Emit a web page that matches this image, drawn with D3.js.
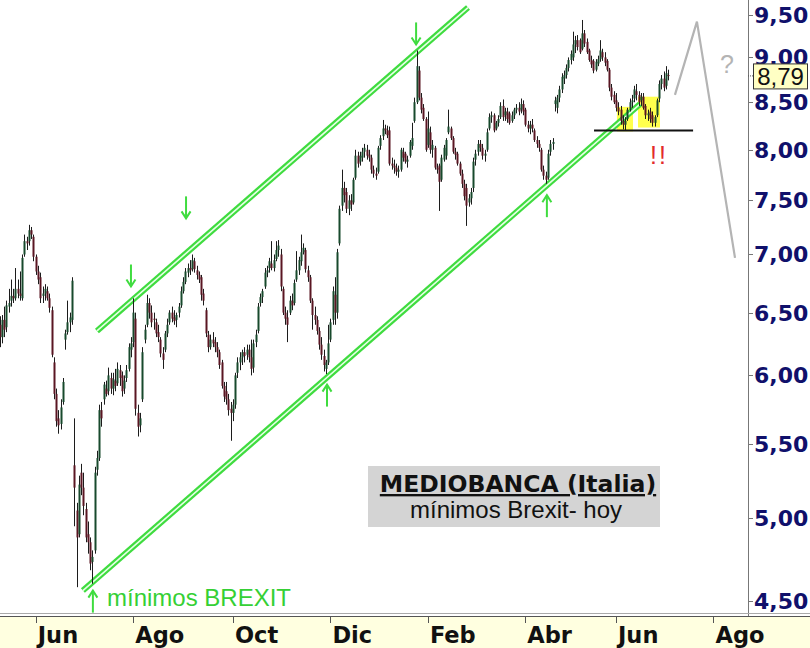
<!DOCTYPE html>
<html><head><meta charset="utf-8">
<script src="https://cdnjs.cloudflare.com/ajax/libs/d3/7.8.5/d3.min.js"></script>
<style>body{margin:0;background:#fff}svg{display:block}</style>
</head><body>
<svg id="chart" width="810" height="648"></svg>
<script>
// ---------------- DATA ----------------
const startDate = "2016-05-10";
const holidays = ["2016-08-15","2016-12-26","2017-04-14","2017-04-17","2017-05-01"];
const opens = [6.40,6.30,6.44,6.38,6.55,6.60,6.64,6.62,6.70,6.66,6.62,7.00,7.12,7.12,7.22,7.16,6.98,6.85,6.80,6.64,6.66,6.68,6.62,6.52,6.10,5.86,5.68,5.64,5.80,6.28,6.34,6.42,6.44,5.35,5.05,4.90,5.30,5.20,5.06,4.90,4.85,4.73,4.80,5.32,5.40,5.74,5.82,5.90,5.88,5.98,5.90,5.96,5.94,6.04,6.00,5.90,5.98,6.05,6.20,6.26,6.45,5.72,5.63,5.82,6.28,6.40,6.58,6.50,6.45,6.42,6.34,6.28,6.17,6.20,6.33,6.42,6.50,6.46,6.44,6.50,6.56,6.68,6.76,6.84,6.88,6.87,6.94,6.86,6.82,6.80,6.66,6.52,6.32,6.22,6.28,6.26,6.22,6.18,6.10,5.92,5.88,5.82,5.75,5.72,5.78,6.02,6.10,6.14,6.18,6.16,6.20,6.14,6.06,6.26,6.35,6.58,6.63,6.72,6.84,6.88,6.92,6.88,6.96,7.04,7.00,6.70,6.50,6.46,6.50,6.60,6.58,6.78,6.86,6.94,7.02,7.04,6.86,6.80,6.60,6.48,6.44,6.35,6.24,6.15,6.05,6.10,6.28,6.44,6.65,6.50,7.10,7.45,7.62,7.58,7.42,7.50,7.48,7.72,7.94,7.88,7.92,7.98,8.00,7.95,7.92,7.80,7.76,7.78,8.04,8.14,8.22,8.20,8.20,7.86,7.84,7.82,7.78,7.80,7.98,7.96,7.88,7.94,8.04,8.30,8.50,8.85,8.55,8.44,8.32,8.05,8.18,8.00,8.02,7.82,7.84,7.70,7.90,7.94,8.18,8.22,8.12,7.98,7.96,7.86,7.76,7.66,7.62,7.48,7.52,7.62,7.90,7.98,8.06,8.02,7.94,8.00,8.22,8.34,8.36,8.22,8.28,8.34,8.46,8.36,8.40,8.38,8.30,8.36,8.42,8.44,8.42,8.48,8.42,8.26,8.22,8.26,8.20,8.10,8.06,8.00,7.80,7.74,7.72,7.98,8.06,8.48,8.44,8.55,8.64,8.76,8.80,8.88,8.97,9.00,9.15,9.20,9.20,9.10,9.28,9.18,9.08,8.97,8.96,8.86,8.93,8.98,9.06,9.00,8.96,8.86,8.66,8.58,8.52,8.44,8.42,8.30,8.26,8.32,8.42,8.50,8.54,8.62,8.58,8.52,8.56,8.46,8.36,8.40,8.36,8.28,8.36,8.54,8.70,8.76,8.68,8.80];
const highs = [6.47,6.48,6.55,6.60,6.70,6.78,6.70,6.88,6.78,6.85,7.00,7.18,7.16,7.27,7.25,7.18,7.00,6.90,6.84,6.72,6.74,6.72,6.66,6.55,6.14,5.90,5.74,5.82,5.98,6.36,6.60,6.50,6.80,5.68,5.10,5.28,5.36,5.30,5.10,4.98,4.88,4.80,5.34,5.45,5.78,5.80,5.95,5.96,6.06,6.02,6.02,6.05,6.10,6.08,6.03,6.00,6.08,6.25,6.30,6.62,6.50,5.78,5.72,6.22,6.40,6.65,6.62,6.56,6.50,6.45,6.40,6.30,6.22,6.35,6.45,6.52,6.55,6.52,6.50,6.58,6.72,6.80,6.88,6.92,6.95,7.00,6.97,6.90,6.85,6.82,6.70,6.54,6.35,6.32,6.34,6.30,6.26,6.20,6.12,5.95,5.95,5.86,5.80,5.82,6.02,6.14,6.18,6.20,6.22,6.24,6.24,6.28,6.28,6.36,6.58,6.66,6.70,6.88,6.90,6.97,7.12,7.00,7.12,7.13,7.05,6.72,6.55,6.52,6.64,6.66,6.78,7.03,6.98,7.18,7.10,7.06,6.90,6.82,6.62,6.55,6.47,6.38,6.30,6.20,6.12,6.40,6.45,6.72,6.80,7.05,7.45,7.80,7.68,7.62,7.55,7.56,7.72,8.00,7.98,7.98,8.02,8.06,8.05,8.00,7.95,7.84,7.82,8.04,8.15,8.31,8.26,8.25,8.24,7.92,7.90,7.86,7.84,8.02,8.02,7.98,7.94,8.10,8.28,8.55,9.08,8.90,8.60,8.48,8.34,8.40,8.24,8.10,8.04,7.86,7.86,7.95,8.05,8.12,8.42,8.24,8.14,8.02,7.98,7.88,7.80,7.70,7.66,7.56,7.62,7.92,8.00,8.10,8.10,8.06,8.00,8.22,8.38,8.40,8.38,8.30,8.36,8.50,8.53,8.44,8.44,8.40,8.40,8.44,8.48,8.50,8.54,8.52,8.44,8.30,8.30,8.32,8.22,8.14,8.10,8.02,7.84,7.78,8.00,8.10,8.12,8.56,8.58,8.68,8.82,8.85,8.92,9.00,9.08,9.30,9.25,9.26,9.22,9.44,9.32,9.22,9.10,9.02,8.98,8.98,9.02,9.20,9.10,9.06,8.98,8.88,8.70,8.62,8.60,8.50,8.46,8.36,8.34,8.44,8.54,8.58,8.68,8.70,8.62,8.60,8.60,8.48,8.42,8.44,8.40,8.36,8.54,8.74,8.80,8.84,8.90,8.86];
const lows = [6.22,6.25,6.30,6.34,6.50,6.55,6.58,6.60,6.62,6.60,6.60,6.98,7.04,7.08,7.14,6.94,6.82,6.74,6.58,6.58,6.60,6.60,6.50,6.14,5.82,5.62,5.57,5.60,5.78,6.20,6.32,6.34,6.40,4.95,4.58,4.88,5.15,5.02,4.85,4.78,4.68,4.60,4.78,5.28,5.38,5.62,5.78,5.84,5.85,5.86,5.85,5.88,5.92,5.92,5.84,5.86,5.95,6.03,6.14,6.22,5.70,5.55,5.58,5.80,6.25,6.38,6.45,6.38,6.36,6.30,6.26,6.14,6.05,6.18,6.30,6.40,6.42,6.40,6.38,6.46,6.54,6.66,6.74,6.80,6.82,6.85,6.84,6.78,6.75,6.60,6.56,6.30,6.18,6.20,6.22,6.18,6.14,6.05,5.90,5.80,5.78,5.70,5.52,5.66,5.75,5.98,6.04,6.08,6.10,6.12,6.10,6.00,6.02,6.22,6.33,6.55,6.58,6.70,6.80,6.84,6.86,6.85,6.94,6.98,6.68,6.48,6.40,6.26,6.48,6.52,6.56,6.76,6.82,6.90,7.00,6.84,6.76,6.58,6.36,6.40,6.32,6.20,6.12,6.03,6.01,6.08,6.26,6.40,6.40,6.45,7.08,7.40,7.48,7.38,7.36,7.40,7.46,7.70,7.82,7.84,7.88,7.92,7.90,7.88,7.76,7.72,7.70,7.76,8.00,8.10,8.16,8.12,7.84,7.80,7.76,7.74,7.72,7.78,7.88,7.86,7.82,7.92,8.00,8.28,8.48,8.52,8.38,8.30,7.98,8.02,7.96,7.92,7.80,7.76,7.40,7.68,7.88,7.90,8.16,8.10,7.96,7.90,7.84,7.74,7.62,7.50,7.26,7.44,7.46,7.58,7.84,7.94,7.98,7.90,7.88,7.98,8.20,8.28,8.18,8.20,8.24,8.32,8.30,8.30,8.28,8.26,8.28,8.32,8.38,8.36,8.38,8.36,8.24,8.18,8.16,8.18,8.08,8.02,7.98,7.78,7.70,7.66,7.70,7.94,8.00,8.40,8.38,8.50,8.60,8.70,8.76,8.84,8.92,8.96,9.05,9.08,9.04,9.08,9.12,9.04,8.95,8.88,8.82,8.84,8.90,8.95,8.96,8.90,8.84,8.62,8.52,8.48,8.40,8.36,8.26,8.21,8.20,8.30,8.40,8.44,8.50,8.52,8.46,8.46,8.42,8.32,8.30,8.28,8.24,8.24,8.34,8.50,8.64,8.62,8.64,8.74];
const closes = [6.30,6.44,6.36,6.56,6.58,6.64,6.62,6.70,6.66,6.64,6.97,7.12,7.10,7.22,7.18,6.98,6.85,6.78,6.62,6.66,6.70,6.62,6.54,6.16,5.86,5.66,5.63,5.76,5.95,6.33,6.42,6.46,6.77,5.20,4.88,5.22,5.20,5.08,4.88,4.85,4.72,4.76,5.30,5.40,5.74,5.68,5.93,5.86,6.00,5.90,5.97,5.92,6.05,5.98,5.88,5.96,6.04,6.22,6.25,6.50,5.75,5.62,5.68,6.18,6.36,6.58,6.50,6.42,6.44,6.33,6.30,6.17,6.12,6.33,6.40,6.50,6.45,6.43,6.48,6.55,6.68,6.76,6.85,6.88,6.86,6.95,6.87,6.82,6.78,6.65,6.60,6.33,6.22,6.28,6.25,6.22,6.18,6.08,5.92,5.84,5.82,5.74,5.72,5.78,6.00,6.10,6.14,6.18,6.15,6.20,6.14,6.05,6.25,6.32,6.55,6.63,6.68,6.84,6.86,6.94,6.88,6.95,7.04,7.08,6.72,6.50,6.45,6.40,6.60,6.56,6.75,6.86,6.95,7.02,7.06,6.87,6.80,6.60,6.48,6.44,6.35,6.24,6.16,6.08,6.10,6.25,6.42,6.68,6.50,7.02,7.42,7.62,7.55,7.42,7.50,7.46,7.70,7.94,7.86,7.94,7.98,8.02,7.94,7.92,7.80,7.76,7.74,8.02,8.12,8.22,8.20,8.15,7.86,7.84,7.82,7.78,7.80,8.00,7.92,7.88,7.90,8.08,8.12,8.50,8.90,8.55,8.42,8.32,8.00,8.22,8.00,8.05,7.82,7.80,7.68,7.92,8.02,8.10,8.24,8.12,7.98,7.95,7.86,7.76,7.66,7.54,7.45,7.52,7.58,7.88,7.96,8.06,8.02,7.94,7.96,8.18,8.34,8.36,8.20,8.28,8.32,8.46,8.34,8.40,8.32,8.28,8.36,8.42,8.44,8.40,8.48,8.40,8.26,8.22,8.26,8.22,8.10,8.06,8.02,7.80,7.74,7.70,7.96,8.06,8.08,8.52,8.55,8.64,8.78,8.80,8.88,8.97,9.04,9.15,9.20,9.12,9.06,9.28,9.16,9.06,8.97,8.92,8.85,8.95,8.98,9.08,9.00,8.94,8.86,8.66,8.56,8.50,8.44,8.40,8.30,8.26,8.30,8.42,8.50,8.52,8.64,8.58,8.50,8.56,8.44,8.36,8.38,8.32,8.28,8.34,8.52,8.70,8.76,8.66,8.82,8.79];
const yTickValues = [4.5,5.0,5.5,6.0,6.5,7.0,7.5,8.0,8.5,9.0,9.5];
const monthTicks = ["2016-06","2016-08","2016-10","2016-12","2017-02","2017-04","2017-06","2017-08"];
const monthLabels = ["Jun","Ago","Oct","Dic","Feb","Abr","Jun","Ago"];
const lastPrice = 8.79;
// trend channel, [bar index, price]
const upperChannel = [[43.0,6.35],[206.7,9.59]];
const lowerChannel = [[36.8,4.56],[282.6,8.48]];
// arrow tips [bar index, price, direction]
const arrowTips = [[58.0,6.72,"down"],[82.3,7.33,"down"],[183.8,9.15,"down"],[144.5,5.93,"up"],[241.5,7.55,"up"],[41.2,4.56,"up"]];
const supportLine = [[262.3,8.20],[306.0,8.20]];
const highlightZones = [[272.4,279.5,8.19,8.45],[281.7,291.4,8.23,8.56]];
const scenarioPath = [[298.0,8.58],[307.7,9.42],[324.5,6.97]];

// ---------------- SETUP ----------------
const svg = d3.select("#chart");
const W = 810, H = 648, plotRight = 748, plotBottom = 616;

// trading days
const parse = d3.utcParse("%Y-%m-%d");
const fmtDay = d3.utcFormat("%Y-%m-%d");
const fmtMonth = d3.utcFormat("%Y-%m");
const days = [];
let d = parse(startDate);
while (days.length < 340) {
  const wd = d.getUTCDay();
  if (wd !== 0 && wd !== 6 && !holidays.includes(fmtDay(d))) days.push(new Date(d));
  d = d3.utcDay.offset(d, 1);
}

const x = d3.scaleLinear().domain([0, 330]).range([-0.5, -0.5 + 330 * 2.2666]);
const y = d3.scaleLog().domain([4.5, 9.5]).range([601, 15]);

// background
svg.append("rect").attr("width", W).attr("height", H).attr("fill", "#fff");

// highlight zones
svg.append("g").selectAll("rect").data(highlightZones).join("rect")
  .attr("x", z => x(z[0])).attr("width", z => x(z[1]) - x(z[0]))
  .attr("y", z => y(z[3])).attr("height", z => y(z[2]) - y(z[3]))
  .attr("fill", "#ffff4d");

// channel lines
const line = d3.line().x(p => x(p[0])).y(p => y(p[1]));
[upperChannel, lowerChannel].forEach(c => {
  svg.append("path").attr("d", line(c)).attr("stroke", "#3fdc3f").attr("stroke-width", 6).attr("fill", "none");
  svg.append("path").attr("d", line(c)).attr("stroke", "#e6ffe6").attr("stroke-width", 1.6).attr("fill", "none");
});

// candles
const bars = d3.range(closes.length);
const cg = svg.append("g");
cg.selectAll("line").data(bars).join("line")
  .attr("x1", i => Math.round(x(i)) + 0.5).attr("x2", i => Math.round(x(i)) + 0.5)
  .attr("y1", i => y(highs[i])).attr("y2", i => y(lows[i]))
  .attr("stroke", "#1c1c1c").attr("stroke-width", 1);
cg.selectAll("rect").data(bars).join("rect")
  .attr("x", i => Math.round(x(i)) - 0.5).attr("width", 2)
  .attr("y", i => y(Math.max(opens[i], closes[i])))
  .attr("height", i => Math.max(1, Math.abs(y(opens[i]) - y(closes[i]))))
  .attr("fill", i => closes[i] >= opens[i] ? "#184a2d" : "#5a1623");

// support line
svg.append("path").attr("d", line(supportLine)).attr("stroke", "#111").attr("stroke-width", 2).attr("fill", "none");

// scenario path
svg.append("path").attr("d", line(scenarioPath)).attr("stroke", "#b4b4b4").attr("stroke-width", 2.2).attr("fill", "none");

// arrows
const ag = svg.append("g").attr("stroke", "#3fdc3f").attr("stroke-width", 2).attr("fill", "none");
arrowTips.forEach(([i, p, dir]) => {
  const tx = x(i), ty = y(p), s = dir === "down" ? -1 : 1;
  ag.append("path").attr("d", `M${tx},${ty} L${tx},${ty + s * 22}`);
  ag.append("path").attr("d", `M${tx - 4.5},${ty + s * 7} L${tx},${ty} L${tx + 4.5},${ty + s * 7}`);
});

// annotations
svg.append("text").attr("x", 107).attr("y", 606).text("mínimos BREXIT")
  .attr("font-family", "Liberation Sans, Arial, sans-serif").attr("font-size", 24).attr("fill", "#35d035");
svg.append("text").attr("x", 659).attr("y", 164).attr("text-anchor", "middle").text("!!")
  .attr("font-family", "Liberation Sans, Arial, sans-serif").attr("font-size", 25).attr("fill", "#e32b2b").attr("letter-spacing", 2);
svg.append("text").attr("x", 727).attr("y", 73).attr("text-anchor", "middle").text("?")
  .attr("font-family", "Liberation Sans, Arial, sans-serif").attr("font-size", 25).attr("fill", "#b4b4b4");

// title box
svg.append("rect").attr("x", 368).attr("y", 466).attr("width", 292).attr("height", 61).attr("fill", "#d4d4d4");
svg.append("text").attr("x", 518).attr("y", 492).attr("text-anchor", "middle").text("MEDIOBANCA (Italia)")
  .attr("font-family", "DejaVu Sans, Verdana, sans-serif").attr("font-weight", "bold").attr("font-size", 23.5)
  .attr("fill", "#111").attr("text-decoration", "underline");
svg.append("text").attr("x", 516).attr("y", 518).attr("text-anchor", "middle").text("mínimos Brexit- hoy")
  .attr("font-family", "Liberation Sans, Arial, sans-serif").attr("font-size", 24).attr("fill", "#111");

// right axis
svg.append("rect").attr("x", plotRight).attr("y", 0).attr("width", W - plotRight).attr("height", plotBottom).attr("fill", "#fff");
svg.append("line").attr("x1", plotRight + 0.5).attr("x2", plotRight + 0.5).attr("y1", 0).attr("y2", plotBottom)
  .attr("stroke", "#777");
const yg = svg.append("g");
yg.selectAll("line").data(yTickValues).join("line")
  .attr("x1", plotRight).attr("x2", plotRight + 5).attr("y1", v => Math.round(y(v)) + 0.5).attr("y2", v => Math.round(y(v)) + 0.5)
  .attr("stroke", "#777");
yg.selectAll("text").data(yTickValues).join("text")
  .attr("x", 754).attr("y", v => y(v) + 8)
  .text(v => d3.format(".2f")(v).replace(".", ","))
  .attr("font-family", "DejaVu Sans, Verdana, sans-serif").attr("font-weight", "bold").attr("font-size", 22)
  .attr("fill", "#10106b");

// last price label
const ly = y(lastPrice);
svg.append("line").attr("x1", plotRight).attr("x2", 753).attr("y1", ly).attr("y2", ly)
  .attr("stroke", "#555").attr("stroke-dasharray", "1,1");
svg.append("rect").attr("x", 753.5).attr("y", ly - 12).attr("width", 54).attr("height", 25)
  .attr("fill", "#ffffc4").attr("stroke", "#333");
svg.append("text").attr("x", 780.5).attr("y", ly + 9).attr("text-anchor", "middle")
  .text(d3.format(".2f")(lastPrice).replace(".", ","))
  .attr("font-family", "Liberation Sans, Arial, sans-serif").attr("font-size", 24).attr("fill", "#111");

// bottom axis
svg.append("rect").attr("x", 0).attr("y", plotBottom).attr("width", W).attr("height", H - plotBottom).attr("fill", "#ffffe0");
svg.append("line").attr("x1", 0).attr("x2", W).attr("y1", plotBottom - 2.5).attr("y2", plotBottom - 2.5).attr("stroke", "#aaa");
svg.append("line").attr("x1", 0).attr("x2", W).attr("y1", plotBottom + 0.5).attr("y2", plotBottom + 0.5).attr("stroke", "#555");
const tickIdx = monthTicks.map(m => days.findIndex(dd => fmtMonth(dd) === m));
const xg = svg.append("g");
xg.selectAll("line").data(tickIdx).join("line")
  .attr("x1", i => Math.round(x(i)) + 0.5).attr("x2", i => Math.round(x(i)) + 0.5)
  .attr("y1", plotBottom).attr("y2", plotBottom + 7).attr("stroke", "#555");
xg.selectAll("text").data(tickIdx).join("text")
  .attr("x", i => x(i) + 2).attr("y", 643)
  .text((i, k) => monthLabels[k])
  .attr("font-family", "DejaVu Sans, Verdana, sans-serif").attr("font-weight", "bold").attr("font-size", 22.5)
  .attr("fill", "#111");
</script>
</body></html>
